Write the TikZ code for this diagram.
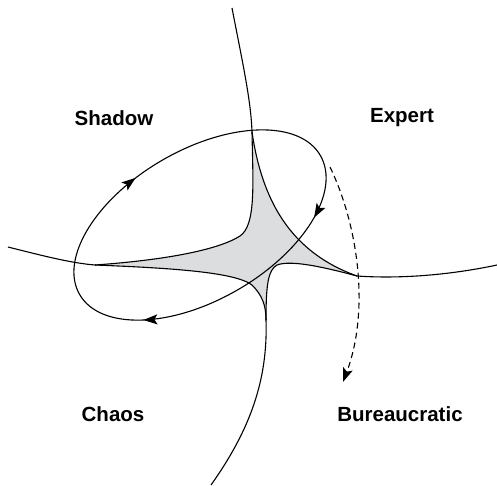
\documentclass[tikz,border=0pt]{standalone}
\usepackage{fontspec}
\newfontfamily\labfont{Liberation Sans}
\usetikzlibrary{arrows.meta,decorations.markings}
\definecolor{regiongrey}{RGB}{220,221,223}
\tikzset{
  mytip/.tip={Stealth[length=14pt,width=10pt,inset=3pt]},
  curve/.style={line width=1.1pt, black},
  lab/.style={font=\labfont\bfseries\fontsize{20.5}{24}\selectfont, inner sep=0pt},
  cycarrows/.style={curve, postaction={decorate}, decoration={markings,
    mark=at position 0.095 with {\arrow{mytip}},
    mark=at position 0.395 with {\arrow{mytip}},
    mark=at position 0.703 with {\arrow{mytip}}}},
  dashedarc/.style={curve, dash pattern=on 6pt off 4pt, -{mytip}},
}
\begin{document}
\begin{tikzpicture}[x=1pt,y=-1pt]
\useasboundingbox (0,0) rectangle (497,485);
\coordinate (T) at (252,132);
\coordinate (R) at (357,276);
\coordinate (B) at (266,320);
\coordinate (L) at (95,265);
\coordinate (C) at (200,225);
\coordinate (topend) at (232,8);
\coordinate (leftend) at (8,247);
\coordinate (rightend) at (497,265);
\coordinate (botend) at (211,485);
\coordinate (ds) at (330,167);
\coordinate (de) at (343,382);
% grey region
\fill[regiongrey] (L) .. controls (165,260) and (218,250) .. (240,236) .. controls (256,225) and (253,185) .. (T)
  .. controls (262,200) and (290,252) .. (R)
  .. controls (320,266) and (290,260) .. (277,265) .. controls (268,270) and (266,285) .. (B)
  .. controls (266,305) and (262,295) .. (252,285) .. controls (235,272) and (170,268) .. (L) -- cycle;
% edges
\draw[curve] (L) .. controls (165,260) and (218,250) .. (240,236) .. controls (256,225) and (253,185) .. (T);
\draw[curve] (T) .. controls (262,200) and (290,252) .. (R);
\draw[curve] (R) .. controls (320,266) and (290,260) .. (277,265) .. controls (268,270) and (266,285) .. (B);
\draw[curve] (L) .. controls (170,268) and (235,272) .. (252,285) .. controls (262,295) and (266,305) .. (B);
% tails
\draw[curve] (topend) .. controls (242,60) and (251,100) .. (T);
\draw[curve] (leftend) .. controls (40,255) and (70,263) .. (L);
\draw[curve] (R) .. controls (400,279) and (450,275) .. (rightend);
\draw[curve] (B) .. controls (268,380) and (250,430) .. (botend);
% cycle ellipse
\draw[cycarrows, rotate around={30:(C)}] (C) ellipse [x radius=139, y radius=75];
% dashed transition
\draw[dashedarc] (ds) .. controls (358,225) and (370,310) .. (de);
% labels
\node[lab] (shadow) at (114,118) {Shadow};
\node[lab] (expert) at (402,118) {Expert};
\node[lab] (chaos) at (113,414) {Chaos};
\node[lab] (bureau) at (400,414) {Bureaucratic};
\end{tikzpicture}
\end{document}
